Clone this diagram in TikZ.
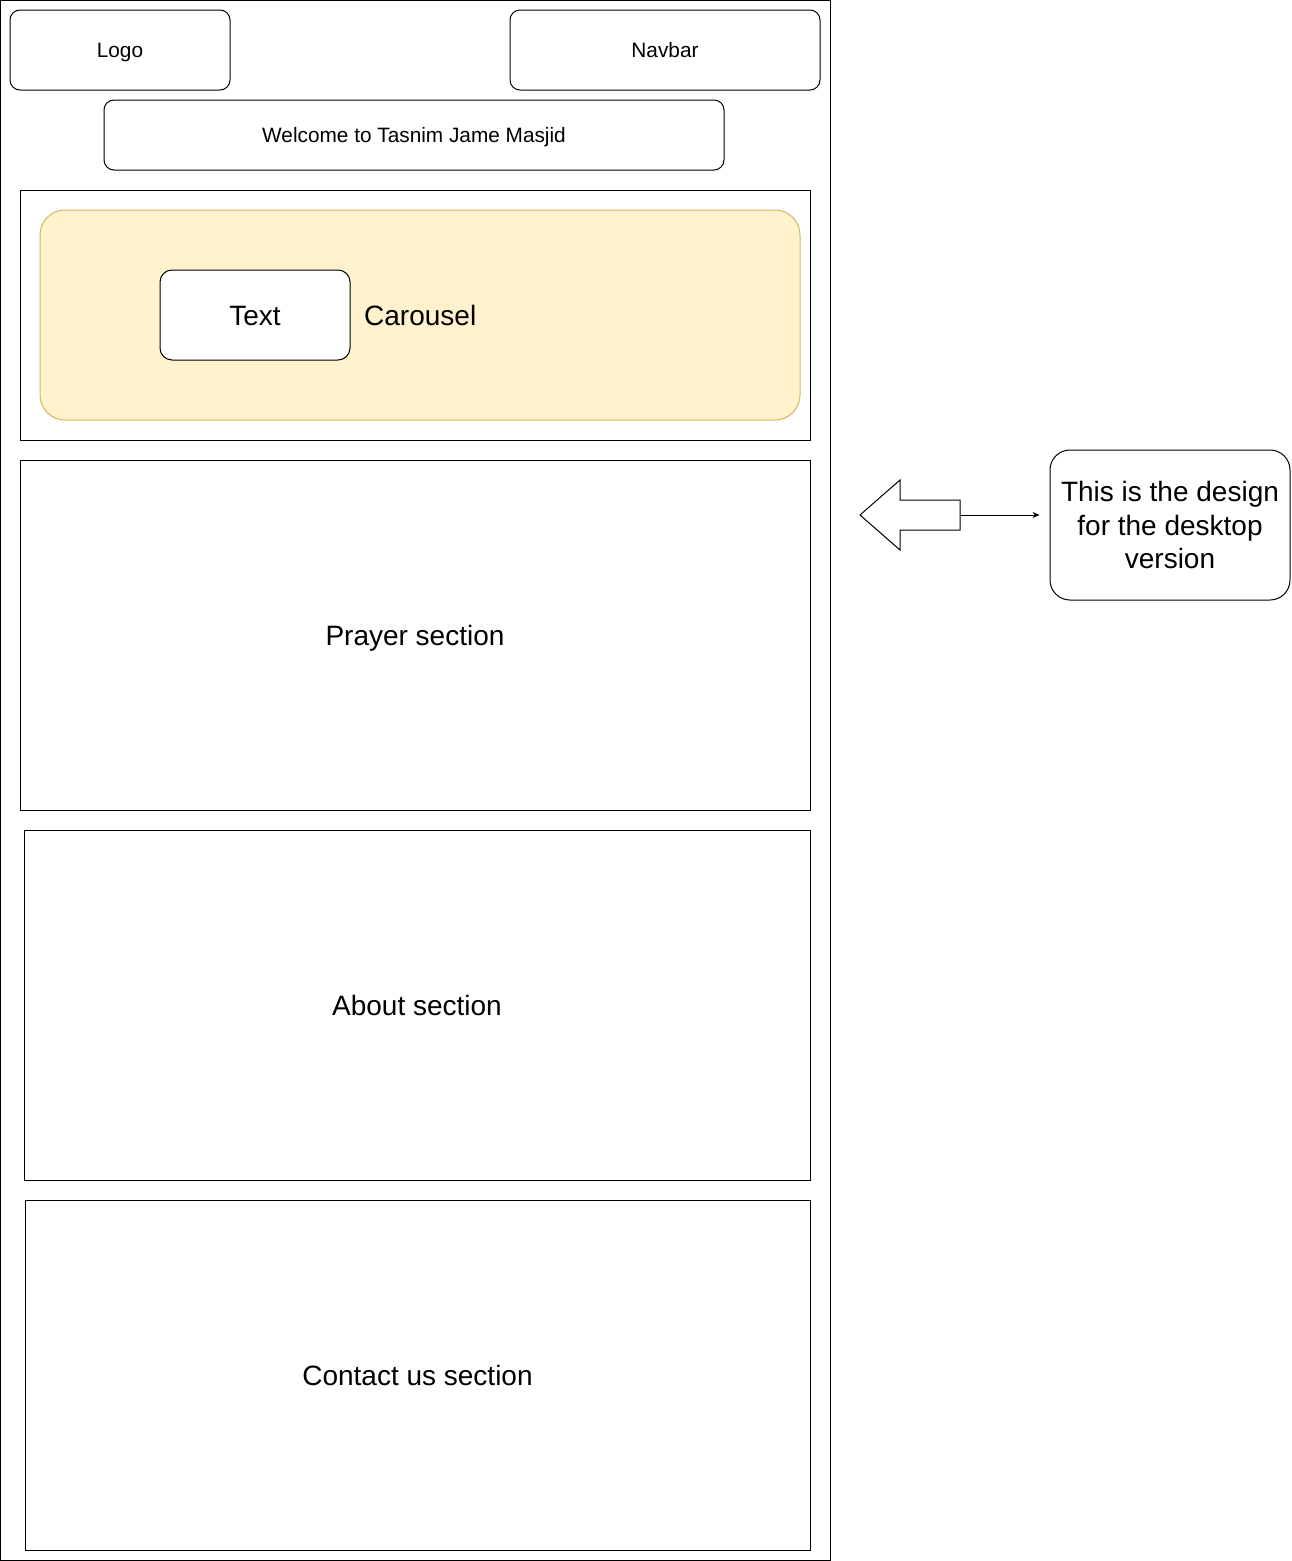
\documentclass[tikz,border=0pt]{standalone}
\usepackage{fontspec}
\setmainfont{Liberation Sans}
\usetikzlibrary{arrows.meta}

\definecolor{carouselfill}{HTML}{FFF2CC}
\definecolor{carouselline}{HTML}{D6B656}

\tikzset{
  box/.style={draw, line width=1pt, rounded corners=10pt, inner sep=0pt, align=center},
  section/.style={draw, line width=1pt, inner sep=0pt},
  small/.style={font=\fontsize{20.8}{25}\selectfont, text height=14.9pt, text depth=0pt},
  big/.style={font=\fontsize{28}{33.5}\selectfont, text height=20pt, text depth=0pt},
}

\begin{document}
\begin{tikzpicture}[x=1pt,y=-1pt]
    \useasboundingbox (0,0) rectangle (1291,1561);

    % Page frame
    \draw [line width=1pt] (0.5,0.5) rectangle (830,1560);

    % Header
    \node [box, small, minimum width=220pt, minimum height=80pt] (logo) at (120,50) {Logo};
    \node [box, small, minimum width=310pt, minimum height=80pt] (navbar) at (665,50) {Navbar};
    \node [box, small, minimum width=620pt, minimum height=70pt] (welcome) at (414,135) {Welcome to Tasnim Jame Masjid};

    % Carousel
    \node [section, minimum width=790pt, minimum height=250pt] (carouselframe) at (415,315) {};
    \node [draw=carouselline, fill=carouselfill, line width=1pt, rounded corners=25pt,
           minimum width=760pt, minimum height=210pt] (carouselbg) at (420,315) {};
    \node [box, big, fill=white, rounded corners=12pt, minimum width=190pt, minimum height=90pt] (text) at (255,315) {Text};
    \node [big, anchor=west, inner sep=0pt] (carousel) at (364,315) {Carousel};

    % Sections
    \node [section, big, minimum width=790pt, minimum height=350pt] (prayer) at (415,635) {Prayer section};
    \node [section, big, minimum width=786pt, minimum height=350pt] (about) at (417,1005) {About section};
    \node [section, big, minimum width=785pt, minimum height=350pt] (contact) at (417.5,1375) {Contact us section};

    % Pointer to the note
    \draw [line width=1pt] (860,515) -- (900,480) -- (900,500) -- (960,500)
        -- (960,530) -- (900,530) -- (900,550) -- cycle;
    \coordinate (tail) at (960,515);
    \node [box, font=\fontsize{28}{33.5}\selectfont, rounded corners=20pt, minimum width=240pt, minimum height=150pt] (note) at (1170,525)
        {This is the design\\for the desktop\\version};
    \draw [line width=1pt, -{Stealth[length=7pt,width=6pt]}, shorten >=10pt] (tail) -- (tail -| note.west);

\end{tikzpicture}
\end{document}
